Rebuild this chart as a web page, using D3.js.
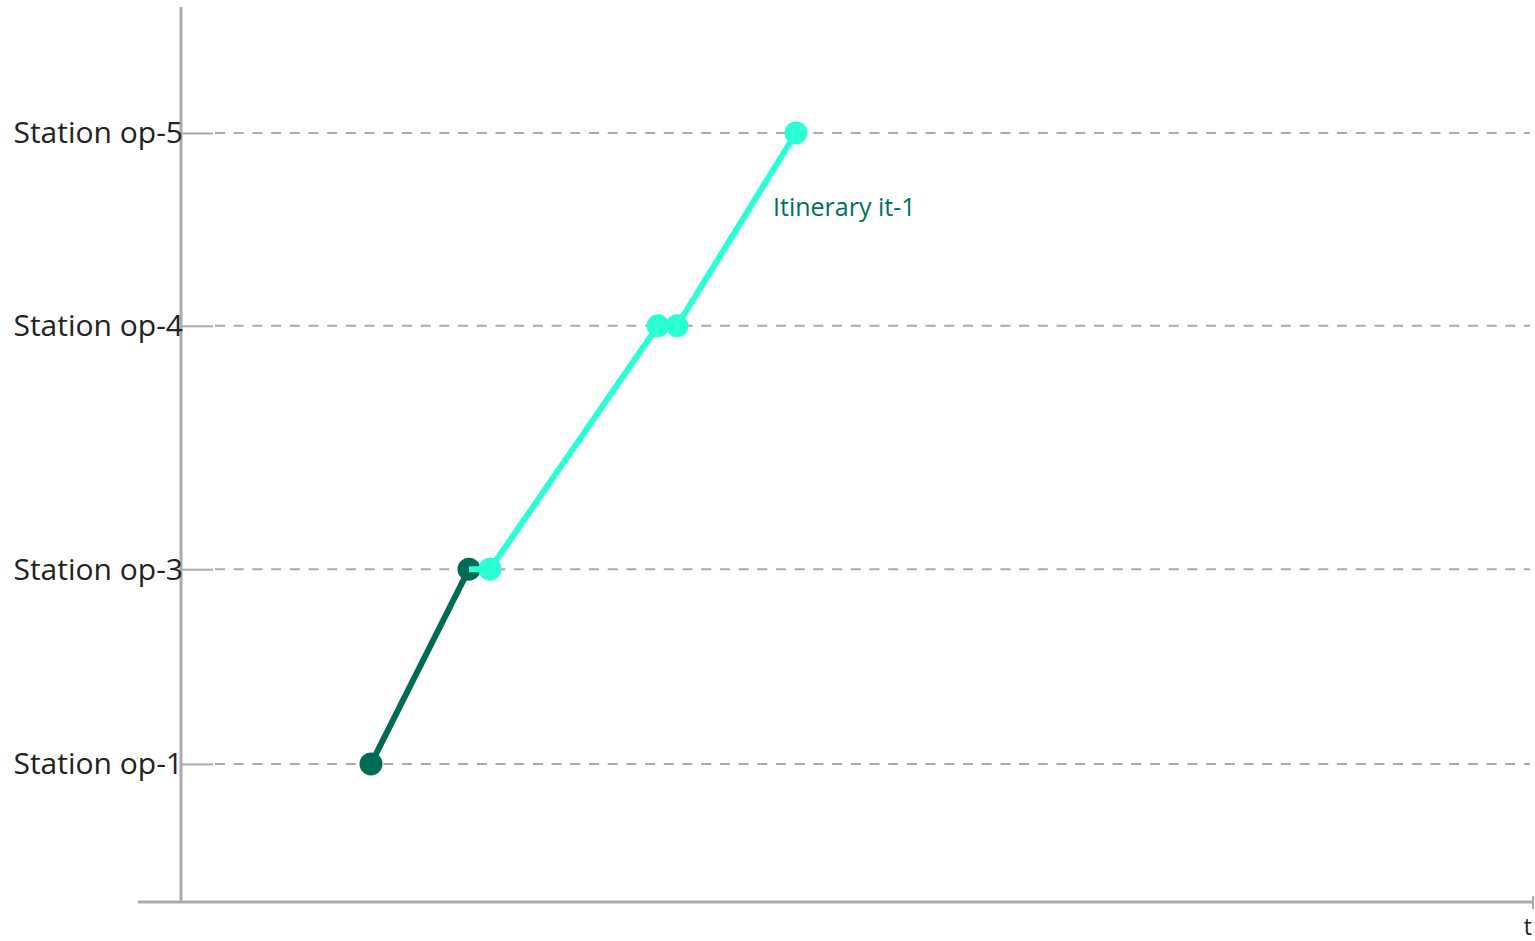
<!DOCTYPE html>
<html><head><meta charset="utf-8">
<script src="https://cdn.jsdelivr.net/npm/d3@7"></script>
<style>html,body{margin:0;padding:0;background:#fff;overflow:hidden}</style>
</head><body>
<svg id="c" width="1535" height="941"></svg>
<script>
// Stations and their position along the line (km)
const stationNames = ["Station op-1", "Station op-3", "Station op-4", "Station op-5"];
const stationPos = [0, 10, 22.5, 32.4];
// Itinerary it-1 segments: times (min) and station index
const seg1Times = [19.0, 28.8];
const seg1Stations = [0, 1];
const seg2Times = [28.8, 30.9, 47.7, 49.6, 61.5];
const seg2Stations = [1, 1, 2, 2, 3];
const seg2Dots = [false, true, true, true, true];
const itineraryLabel = "Itinerary it-1";
const xAxisLabel = "t";

const W = 1535, H = 941;
const svg = d3.select("#c");
const x = d3.scaleLinear().domain([-4.3, 135.2]).range([138, 1533]);
const y = d3.scaleLinear().domain([-7.09, 38.87]).range([902, 7]);
const axisColor = "#aaaaaa";
const font = "'Open Sans', sans-serif";
const dark = "#006b54", light = "#2bffd4";

// grid lines
svg.append("g").selectAll("line").data(stationPos).join("line")
  .attr("x1", 215).attr("x2", 1530)
  .attr("y1", d => y(d)).attr("y2", d => y(d))
  .attr("stroke", axisColor).attr("stroke-width", 2).attr("stroke-dasharray", "10,8.7");

// y axis
const yAxis = d3.axisRight(y).tickValues(stationPos).tickSize(32).tickFormat("");
const gy = svg.append("g").attr("transform", `translate(${x(0)},0)`).call(yAxis);
gy.select(".domain").remove();
gy.selectAll(".tick line").attr("stroke", axisColor).attr("stroke-width", 2);
svg.append("line").attr("x1", x(0)).attr("x2", x(0)).attr("y1", y.range()[1]).attr("y2", y.range()[0])
  .attr("stroke", axisColor).attr("stroke-width", 3);
svg.append("g").selectAll("text").data(stationPos).join("text")
  .attr("x", x(0) + 2).attr("y", d => y(d)).attr("dy", "0.35em")
  .attr("text-anchor", "end").attr("font-family", font).attr("font-size", 30)
  .attr("fill", "#222").text((d, i) => stationNames[i]);

// x axis
svg.append("line").attr("x1", x.range()[0]).attr("x2", x.range()[1]).attr("y1", y(-7.09)).attr("y2", y(-7.09))
  .attr("stroke", axisColor).attr("stroke-width", 3);
svg.append("line").attr("x1", x.range()[1]).attr("x2", x.range()[1]).attr("y1", y(-7.09) - 6).attr("y2", y(-7.09) + 7)
  .attr("stroke", axisColor).attr("stroke-width", 2);
svg.append("text").attr("x", x.range()[1] - 1).attr("y", 935).attr("text-anchor", "end")
  .attr("font-family", font).attr("font-size", 23).attr("fill", "#222").text(xAxisLabel);

const line = d3.line().x(d => x(d[0])).y(d => y(stationPos[d[1]]));
const s1 = seg1Times.map((t, i) => [t, seg1Stations[i]]);
const s2 = seg2Times.map((t, i) => [t, seg2Stations[i]]);

svg.append("path").attr("d", line(s1)).attr("fill", "none").attr("stroke", dark).attr("stroke-width", 6);
svg.append("g").selectAll("circle").data(s1).join("circle")
  .attr("cx", d => x(d[0])).attr("cy", d => y(stationPos[d[1]])).attr("r", 11.5).attr("fill", dark);
svg.append("path").attr("d", line(s2)).attr("fill", "none").attr("stroke", light).attr("stroke-width", 6);
svg.append("g").selectAll("circle").data(s2.filter((d, i) => seg2Dots[i])).join("circle")
  .attr("cx", d => x(d[0])).attr("cy", d => y(stationPos[d[1]])).attr("r", 11.5).attr("fill", light);

svg.append("text").attr("x", x(59.2)).attr("y", 216)
  .attr("font-family", font).attr("font-size", 25).attr("fill", "#00705a").text(itineraryLabel);
</script>
</body></html>
